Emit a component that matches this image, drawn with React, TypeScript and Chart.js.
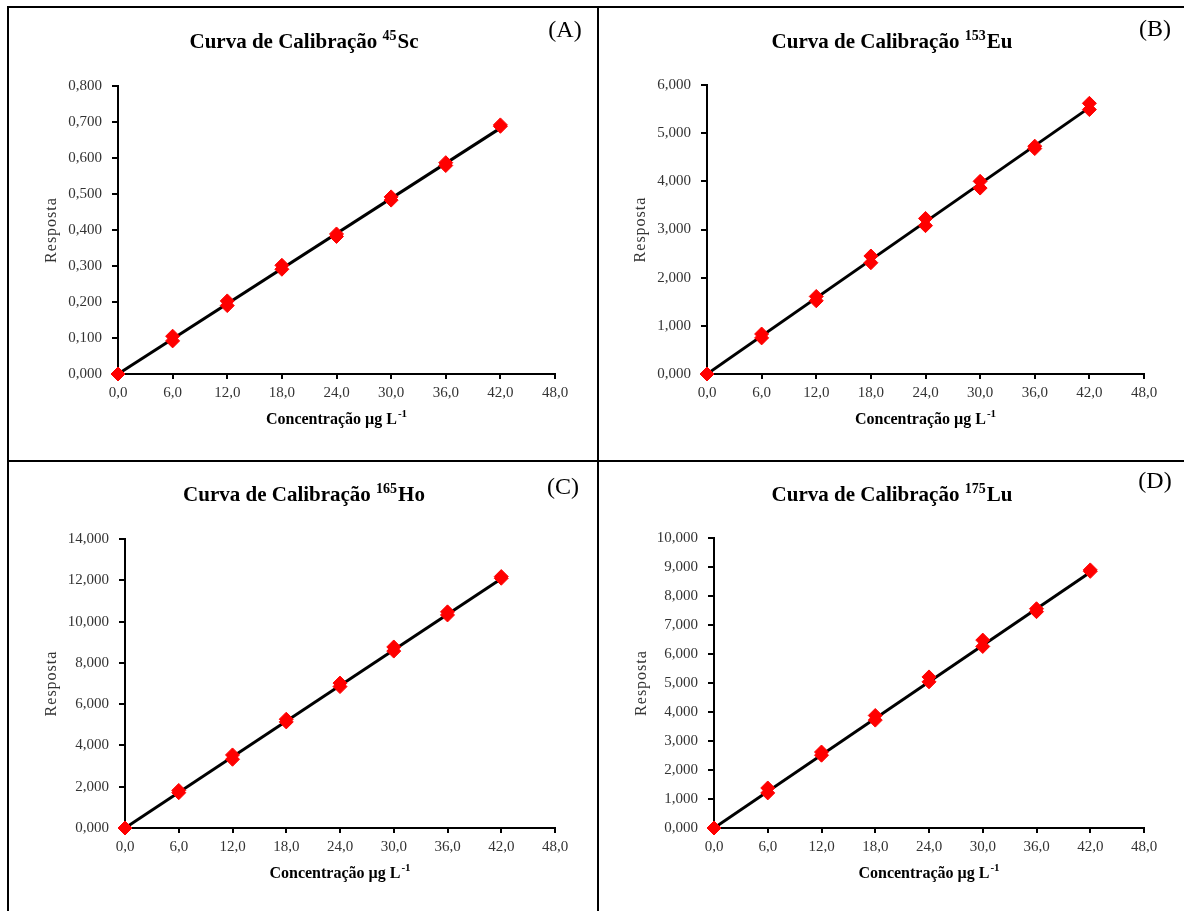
import React, { useEffect, useRef } from "react";
import { Chart, registerables } from "chart.js";

Chart.register(...registerables);

// ---------- data ----------
const concentracoes = [0, 0, 6, 6, 12, 12, 18, 18, 24, 24, 30, 30, 36, 36, 42, 42];
const respostaSc = [0, 0, 0.105, 0.092, 0.203, 0.19, 0.302, 0.291, 0.389, 0.382, 0.492, 0.483, 0.587, 0.579, 0.692, 0.688];
const respostaEu = [0, 0, 0.83, 0.75, 1.61, 1.52, 2.45, 2.31, 3.23, 3.08, 4.0, 3.86, 4.73, 4.68, 5.62, 5.49];
const respostaHo = [0, 0, 1.82, 1.71, 3.54, 3.33, 5.27, 5.14, 7.02, 6.85, 8.77, 8.57, 10.47, 10.32, 12.18, 12.1];
const respostaLu = [0, 0, 1.38, 1.21, 2.62, 2.51, 3.88, 3.72, 5.21, 5.04, 6.48, 6.26, 7.56, 7.46, 8.9, 8.85];

const trendX = [0, 42];
const trendSc = [0, 0.683];
const trendEu = [0, 5.53];
const trendHo = [0, 12.07];
const trendLu = [0, 8.82];

const xMin = 0;
const xMax = 48;
const xStep = 6;

const titlePrefix = "Curva de Calibração ";
const xTitleMain = "Concentração µg L";
const xTitleSup = "-1";
const yTitle = "Resposta";

const SERIF = '"Liberation Serif", "Times New Roman", serif';

type Panel = {
  key: string;
  label: string;
  mass: string;
  element: string;
  xs: number[];
  ys: number[];
  tx: number[];
  ty: number[];
  yMax: number;
  yStep: number;
  box: { left: number; top: number; width: number; height: number };
  area: { left: number; top: number; right: number; bottom: number };
  titleX: number;
  titleBase: number;
  labelX: number;
  labelY: number;
  yTitleX: number;
};

const panels: Panel[] = [
  {
    key: "A", label: "(A)", mass: "45", element: "Sc",
    xs: concentracoes, ys: respostaSc, tx: trendX, ty: trendSc,
    yMax: 0.8, yStep: 0.1,
    box: { left: 0, top: 0, width: 600, height: 460 },
    area: { left: 118, top: 86, right: 555, bottom: 374 },
    titleX: 304, titleBase: 48, labelX: 565, labelY: 31, yTitleX: 52,
  },
  {
    key: "B", label: "(B)", mass: "153", element: "Eu",
    xs: concentracoes, ys: respostaEu, tx: trendX, ty: trendEu,
    yMax: 6, yStep: 1,
    box: { left: 600, top: 0, width: 584, height: 460 },
    area: { left: 107, top: 85, right: 544, bottom: 374 },
    titleX: 292, titleBase: 48, labelX: 555, labelY: 30, yTitleX: 41,
  },
  {
    key: "C", label: "(C)", mass: "165", element: "Ho",
    xs: concentracoes, ys: respostaHo, tx: trendX, ty: trendHo,
    yMax: 14, yStep: 2,
    box: { left: 0, top: 460, width: 600, height: 451 },
    area: { left: 125, top: 79, right: 555, bottom: 368 },
    titleX: 304, titleBase: 41, labelX: 563, labelY: 28, yTitleX: 52,
  },
  {
    key: "D", label: "(D)", mass: "175", element: "Lu",
    xs: concentracoes, ys: respostaLu, tx: trendX, ty: trendLu,
    yMax: 10, yStep: 1,
    box: { left: 600, top: 460, width: 584, height: 451 },
    area: { left: 114, top: 78, right: 544, bottom: 368 },
    titleX: 292, titleBase: 41, labelX: 555, labelY: 22, yTitleX: 42,
  },
];

function makeTextPlugin(p: Panel) {
  return {
    id: "panelText" + p.key,
    afterDraw(chart: any) {
      const ctx: CanvasRenderingContext2D = chart.ctx;
      const ca = chart.chartArea;
      ctx.save();
      ctx.fillStyle = "#000";
      ctx.textAlign = "left";
      ctx.textBaseline = "alphabetic";

      // chart title with superscript mass number
      const big = `bold 21px ${SERIF}`;
      const small = `bold 14px ${SERIF}`;
      ctx.font = big;
      const w1 = ctx.measureText(titlePrefix).width;
      const w3 = ctx.measureText(p.element).width;
      ctx.font = small;
      const w2 = ctx.measureText(p.mass).width;
      const total = w1 + w2 + w3 + 1;
      let x = p.titleX - total / 2;
      ctx.font = big;
      ctx.fillText(titlePrefix, x, p.titleBase);
      x += w1;
      ctx.font = small;
      ctx.fillText(p.mass, x, p.titleBase - 8);
      x += w2 + 1;
      ctx.font = big;
      ctx.fillText(p.element, x, p.titleBase);

      // panel label
      ctx.font = `24px ${SERIF}`;
      ctx.textAlign = "center";
      ctx.textBaseline = "middle";
      ctx.fillText(p.label, p.labelX, p.labelY);

      // x axis title
      const xb = `bold 16px ${SERIF}`;
      const xs = `bold 11px ${SERIF}`;
      ctx.textAlign = "left";
      ctx.textBaseline = "alphabetic";
      ctx.font = xb;
      const a1 = ctx.measureText(xTitleMain).width;
      ctx.font = xs;
      const a2 = ctx.measureText(xTitleSup).width;
      const cx = (ca.left + ca.right) / 2;
      const xbase = ca.bottom + 50;
      let xx = cx - (a1 + a2 + 1) / 2;
      ctx.font = xb;
      ctx.fillText(xTitleMain, xx, xbase);
      xx += a1 + 1;
      ctx.font = xs;
      ctx.fillText(xTitleSup, xx, xbase - 7);

      // y axis title
      ctx.translate(p.yTitleX, (ca.top + ca.bottom) / 2);
      ctx.rotate(-Math.PI / 2);
      ctx.font = `16px ${SERIF}`;
      (ctx as any).letterSpacing = "1px";
      ctx.fillStyle = "#333";
      ctx.textAlign = "center";
      ctx.textBaseline = "middle";
      ctx.fillText(yTitle, 0, 0);
      ctx.restore();
    },
  };
}

function PanelChart({ p }: { p: Panel }) {
  const ref = useRef<HTMLCanvasElement | null>(null);
  useEffect(() => {
    if (!ref.current) return;
    const yWidth = p.area.left;
    const xHeight = p.box.height - p.area.bottom;
    const chart = new Chart(ref.current, {
      type: "scatter",
      data: {
        datasets: [
          {
            type: "line",
            label: "trend",
            data: p.tx.map((v, i) => ({ x: v, y: p.ty[i] })),
            borderColor: "#000",
            borderWidth: 3,
            pointRadius: 0,
            fill: false,
            order: 2,
          } as any,
          {
            label: "pontos",
            data: p.xs.map((v, i) => ({ x: v, y: p.ys[i] })),
            backgroundColor: "#ff0000",
            borderColor: "#ff0000",
            borderWidth: 1,
            pointStyle: "rectRot",
            pointRadius: 7,
            clip: false,
            order: 1,
          } as any,
        ],
      },
      options: {
        animation: false,
        responsive: false,
        maintainAspectRatio: false,
        events: [],
        layout: {
          padding: {
            left: 0,
            top: p.area.top,
            right: p.box.width - p.area.right,
            bottom: 0,
          },
        },
        plugins: {
          legend: { display: false },
          title: { display: false },
          tooltip: { enabled: false },
        },
        scales: {
          x: {
            type: "linear",
            min: xMin,
            max: xMax,
            ticks: {
              stepSize: xStep,
              autoSkip: false,
              maxRotation: 0,
              padding: 5,
              color: "#333",
              font: { family: SERIF, size: 15 },
              callback: (v: any) => Number(v).toFixed(1).replace(".", ","),
            },
            grid: {
              drawOnChartArea: false,
              drawTicks: true,
              tickLength: 5,
              color: "#000",
              lineWidth: 2,
            },
            border: { display: true, color: "#000", width: 2 },
            afterFit: (s: any) => {
              s.height = xHeight;
            },
          },
          y: {
            type: "linear",
            min: 0,
            max: p.yMax,
            ticks: {
              stepSize: p.yStep,
              autoSkip: false,
              padding: 10,
              color: "#333",
              font: { family: SERIF, size: 15 },
              callback: (v: any) => Number(v).toFixed(3).replace(".", ","),
            },
            grid: {
              drawOnChartArea: false,
              drawTicks: true,
              tickLength: 6,
              color: "#000",
              lineWidth: 2,
            },
            border: { display: true, color: "#000", width: 2 },
            afterFit: (s: any) => {
              s.width = yWidth;
            },
          },
        },
      } as any,
      plugins: [makeTextPlugin(p)],
    });
    return () => chart.destroy();
  }, [p]);

  return (
    <canvas
      ref={ref}
      width={p.box.width}
      height={p.box.height}
      style={{
        position: "absolute",
        left: p.box.left,
        top: p.box.top,
        width: p.box.width,
        height: p.box.height,
      }}
    />
  );
}

export default function App() {
  const line = (s: React.CSSProperties) => (
    <div style={{ position: "absolute", background: "#000", ...s }} />
  );
  return (
    <div
      style={{
        position: "absolute",
        left: 0,
        top: 0,
        width: 1184,
        height: 911,
        background: "#fff",
        overflow: "hidden",
      }}
    >
      {panels.map((p) => (
        <PanelChart key={p.key} p={p} />
      ))}
      {line({ left: 7, top: 6, width: 1177, height: 2 })}
      {line({ left: 7, top: 6, width: 2, height: 905 })}
      {line({ left: 597, top: 6, width: 2, height: 905 })}
      {line({ left: 7, top: 460, width: 1177, height: 2 })}
    </div>
  );
}
